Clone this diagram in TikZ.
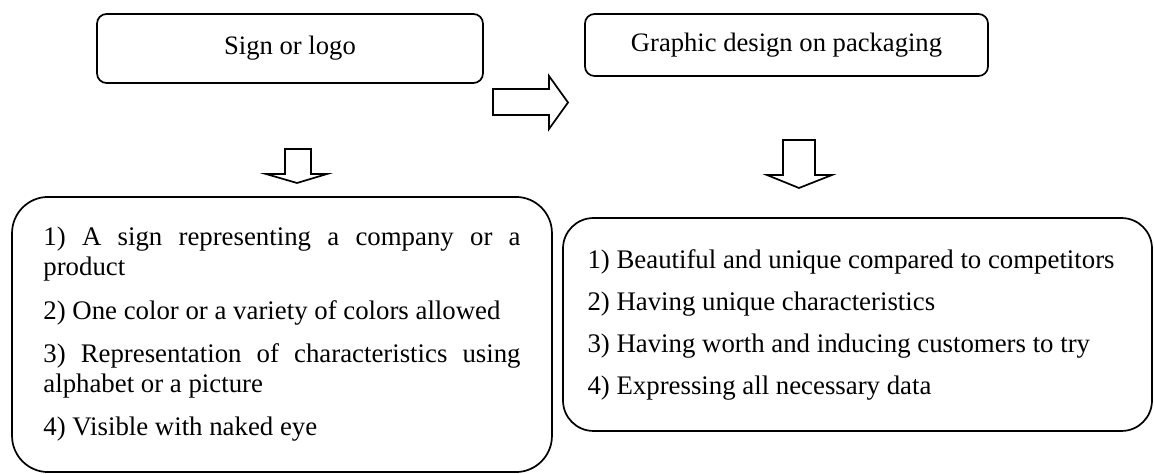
\documentclass[tikz,border=0pt]{standalone}
\usepackage{fontspec}
\setmainfont{Liberation Serif}
\usetikzlibrary{positioning}

\tikzset{
  topbox/.style={draw, rounded corners=5pt, line width=0.9pt, font=\fontsize{14}{16}\selectfont},
  listbox/.style={draw, line width=0.9pt, inner sep=0pt, font=\fontsize{14.1}{15.8}\selectfont},
  blockarrow/.style={draw, line width=0.9pt, line join=miter}
}

\begin{document}
\begin{tikzpicture}[x=0.526pt, y=-0.526pt]
    \useasboundingbox (0,0) rectangle (1154,474);

    \node[topbox, minimum width=203pt, minimum height=36.3pt] (logo) at (290,48.5) {Sign or logo};
    \node[topbox, minimum width=212pt, minimum height=32.6pt] (design) at (786.5,45) {Graphic design on packaging};

    \node[listbox, rounded corners=19pt, minimum width=284pt, minimum height=144.7pt,
          text width=251pt, align=justify] (logolist) at (282,334.5)
      {\parindent=0pt\parskip=7pt\hyphenpenalty=10000
       1) A sign representing a company or a\linebreak product\par
       2) One color or a variety of colors allowed\par
       3) Representation of characteristics using\linebreak alphabet or a picture\par
       4) Visible with naked eye};

    \node[listbox, rounded corners=16pt, minimum width=309.8pt, minimum height=112pt,
          text width=284pt, align=flush left] (designlist) at (857.5,324.5)
      {\parindent=0pt\parskip=6.3pt
       1) Beautiful and unique compared to competitors\par
       2) Having unique characteristics\par
       3) Having worth and inducing customers to try\par
       4) Expressing all necessary data};

    % block arrows
    \draw[blockarrow] (493,89) -- (549,89) -- (549,76) -- (568,102.5) -- (549,129) -- (549,115) -- (493,115) -- cycle;
    \draw[blockarrow] (285,149) -- (311,149) -- (311,174) -- (327,174) -- (297,183) -- (266,174) -- (285,174) -- cycle;
    \draw[blockarrow] (783,140) -- (815,140) -- (815,175) -- (832,175) -- (799,188) -- (767,175) -- (783,175) -- cycle;

      % \draw[help lines] (0,0) grid[step=50] (1154,474);
\end{tikzpicture}
\end{document}
